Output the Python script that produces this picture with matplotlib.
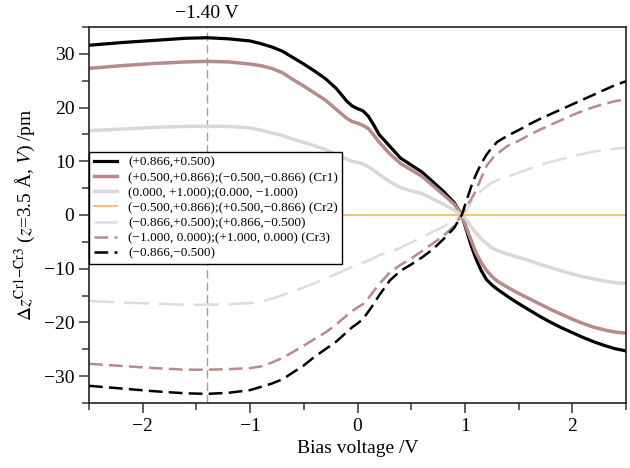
import matplotlib
matplotlib.use("Agg")
import matplotlib.pyplot as plt
import matplotlib.transforms as mtransforms
import numpy as np

plt.rcParams['font.family'] = ['Liberation Serif', 'DejaVu Serif']
plt.rcParams['mathtext.fontset'] = 'stix'

# bias voltage grid (V)
bias = [-2.5, -2.2, -1.9, -1.6, -1.4, -1.2, -1.0, -0.9, -0.8, -0.7, -0.6, -0.5,
        -0.4, -0.3, -0.2, -0.1, -0.05, 0.0, 0.05, 0.1, 0.15, 0.2, 0.3, 0.4, 0.5,
        0.6, 0.7, 0.8, 0.9, 0.97, 1.02, 1.06, 1.1, 1.15, 1.2, 1.25, 1.3, 1.4,
        1.5, 1.6, 1.7, 1.8, 1.9, 2.0, 2.1, 2.2, 2.3, 2.4, 2.5]

# Delta z (pm)
dz_p866_p500 = [31.6, 32.1, 32.5, 32.9, 33.0, 32.8, 32.4, 31.9, 31.3, 30.5, 29.3, 28.1,
                26.8, 25.4, 23.6, 21.2, 20.3, 19.8, 19.4, 18.4, 16.8, 15.0, 12.8, 10.6, 9.3,
                8.0, 6.2, 4.4, 2.3, 0.0, -3.2, -5.8, -8.0, -10.3, -12.0, -13.0, -13.8, -15.2,
                -16.5, -17.7, -18.9, -20.0, -21.0, -21.9, -22.8, -23.6, -24.3, -24.9, -25.3]
dz_cr1 = [27.3, 27.8, 28.2, 28.5, 28.6, 28.5, 28.1, 27.8, 27.3, 26.5, 25.2, 24.0,
          22.7, 21.4, 19.7, 18.0, 17.4, 17.1, 16.7, 16.1, 14.9, 13.6, 11.4, 9.6, 8.4,
          7.2, 5.5, 3.8, 2.0, 0.0, -2.7, -4.8, -6.9, -8.8, -10.3, -11.4, -12.3, -13.5,
          -14.6, -15.6, -16.6, -17.6, -18.5, -19.4, -20.2, -20.9, -21.4, -21.8, -22.0]
dz_0_p1 = [15.7, 16.0, 16.3, 16.5, 16.5, 16.5, 16.2, 15.8, 15.3, 14.8, 14.1, 13.5,
           12.9, 12.2, 11.3, 10.4, 10.0, 9.8, 9.5, 9.0, 8.3, 7.6, 6.2, 5.1, 4.5,
           4.0, 3.0, 2.0, 0.9, 0.0, -1.0, -2.2, -3.3, -4.4, -5.3, -6.1, -6.6, -7.3,
           -7.9, -8.5, -9.2, -9.8, -10.4, -11.0, -11.5, -11.9, -12.3, -12.6, -12.7]
dz_cr2 = [0.0] * len(bias)
dz_m866_p500 = [-16.0, -16.3, -16.5, -16.7, -16.7, -16.6, -16.4, -16.1, -15.6, -14.9, -14.2, -13.5,
                -12.7, -11.8, -11.0, -10.1, -9.7, -9.3, -8.9, -8.5, -8.0, -7.5, -6.9, -6.1, -5.1,
                -4.2, -3.1, -2.2, -0.9, 0.0, 1.0, 2.4, 3.4, 4.5, 5.3, 6.0, 6.5, 7.1,
                7.9, 8.6, 9.3, 9.9, 10.4, 10.9, 11.4, 11.8, 12.1, 12.3, 12.5]
dz_cr3 = [-27.7, -28.1, -28.5, -28.8, -28.8, -28.7, -28.5, -28.2, -27.5, -26.6, -25.5, -24.3,
          -23.1, -21.9, -20.4, -18.7, -17.9, -17.2, -16.6, -15.5, -14.2, -12.9, -10.7, -9.3, -8.1,
          -6.7, -5.3, -3.9, -2.0, 0.0, 1.8, 3.0, 4.4, 6.8, 9.1, 10.4, 11.4, 12.9,
          13.8, 14.9, 15.9, 16.8, 17.7, 18.6, 19.4, 20.1, 20.7, 21.2, 21.5]
dz_m866_m500 = [-31.8, -32.3, -32.8, -33.2, -33.3, -33.1, -32.6, -32.0, -31.4, -30.6, -29.3, -28.0,
                -26.4, -25.0, -23.6, -21.8, -20.9, -20.2, -19.4, -18.0, -16.6, -15.0, -12.2, -10.4, -9.2,
                -7.9, -6.4, -4.5, -2.4, 0.0, 3.0, 5.4, 7.4, 9.5, 11.2, 12.5, 13.6, 14.8,
                15.8, 16.9, 17.9, 18.8, 19.7, 20.6, 21.5, 22.4, 23.3, 24.2, 24.9]

labels = ["(+0.866,+0.500)",
          "(+0.500,+0.866);(\u22120.500,\u22120.866) (Cr1)",
          "(0.000, +1.000);(0.000, \u22121.000)",
          "(\u22120.500,+0.866);(+0.500,\u22120.866) (Cr2)",
          "(\u22120.866,+0.500);(+0.866,\u22120.500)",
          "(\u22121.000, 0.000);(+1.000, 0.000) (Cr3)",
          "(\u22120.866,\u22120.500)"]

v_mark = -1.40

fig = plt.figure(figsize=(6.3, 4.68), dpi=100)
ax = fig.add_axes([0.1413, 0.1389, 0.8524, 0.8034])

ax.axvline(v_mark, color='#c29191', lw=1.0, ls=(0, (6, 3)), zorder=1)

ax.plot(bias, dz_p866_p500, color='black', lw=2.3, label=labels[0])
ax.plot(bias, dz_cr1, color='#b88a8a', lw=2.5, label=labels[1])
ax.plot(bias, dz_0_p1, color='#d8d8d8', lw=2.5, label=labels[2])
ax.plot(bias, dz_cr2, color='#f5b466', lw=1.2, label=labels[3])
ax.plot(bias, dz_m866_p500, color='#dddddd', lw=1.8, dashes=(10, 4), label=labels[4])
ax.plot(bias, dz_cr3, color='#b88a8a', lw=1.8, dashes=(5.5, 2.5), label=labels[5])
ax.plot(bias, dz_m866_m500, color='black', lw=1.8, dashes=(5.5, 2.5), label=labels[6])

ax.set_xlim(-2.5, 2.5)
ax.set_ylim(-35, 35)
ax.set_xticks([-2, -1, 0, 1, 2])
ax.set_xticks(np.arange(-2.5, 2.6, 0.5), minor=True)
ax.set_yticks([-30, -20, -10, 0, 10, 20, 30])
ax.set_yticks(np.arange(-35, 36, 5), minor=True)
ax.tick_params(which='both', direction='out', labelsize=14, width=1.2, color='#444444')
ax.tick_params(which='major', length=7)
ax.tick_params(which='minor', length=5)
for s in ax.spines.values():
    s.set_linewidth(1.2)
    s.set_color('#222222')

ax.set_xlabel("Bias voltage /V", fontsize=14)
ax.set_ylabel(r"$\Delta z^{\mathrm{Cr1{-}Cr3}}$ ($z$=3.5 Å, $V$) /pm", fontsize=14)

trans = mtransforms.blended_transform_factory(ax.transData, ax.transAxes)
ax.text(v_mark, 1.012, "\u22121.40 V", transform=trans, ha='center', va='bottom', fontsize=14)

leg = ax.legend(loc='upper left', bbox_to_anchor=(0, 0.668), borderaxespad=0,
                fontsize=9.5, frameon=True, fancybox=False, framealpha=1,
                edgecolor='black', labelspacing=0.22, handlelength=1.8,
                borderpad=0.35)
leg.get_frame().set_linewidth(1.0)

fig.savefig("out.png", dpi=100)
